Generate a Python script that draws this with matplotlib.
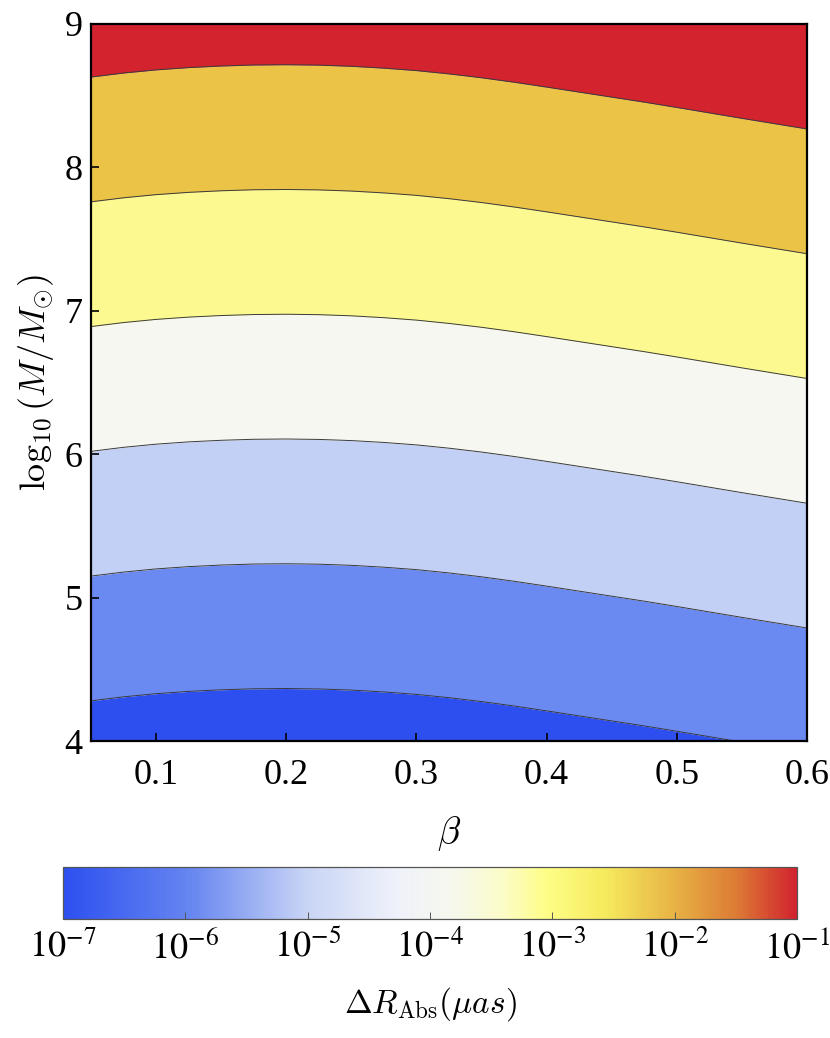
import numpy as np
import matplotlib
matplotlib.use("Agg")
import matplotlib.pyplot as plt
from matplotlib.colors import LinearSegmentedColormap, LogNorm
from matplotlib.cm import ScalarMappable

plt.rcParams['font.family'] = ['Liberation Serif', 'DejaVu Serif']
plt.rcParams['mathtext.fontset'] = 'stix'

beta = [0.05, 0.075, 0.1, 0.125, 0.15, 0.175, 0.2, 0.225, 0.25, 0.275, 0.3, 0.325,
        0.35, 0.375, 0.4, 0.425, 0.45, 0.475, 0.5, 0.525, 0.55, 0.575, 0.6]

# contour lines log10(M/Msun), bottom to top
line1 = [4.280, 4.308, 4.330, 4.346, 4.357, 4.364, 4.366, 4.363, 4.355, 4.342, 4.325, 4.302,
         4.275, 4.244, 4.210, 4.175, 4.140, 4.105, 4.068, 4.030, 3.992, 3.955, 3.918]
line2 = [5.150, 5.178, 5.200, 5.216, 5.227, 5.234, 5.236, 5.233, 5.225, 5.212, 5.195, 5.172,
         5.145, 5.114, 5.080, 5.045, 5.010, 4.975, 4.938, 4.900, 4.862, 4.825, 4.788]
line3 = [6.020, 6.048, 6.070, 6.086, 6.097, 6.104, 6.106, 6.103, 6.095, 6.082, 6.065, 6.042,
         6.015, 5.984, 5.950, 5.915, 5.880, 5.845, 5.808, 5.770, 5.732, 5.695, 5.658]
line4 = [6.890, 6.918, 6.940, 6.956, 6.967, 6.974, 6.976, 6.973, 6.965, 6.952, 6.935, 6.912,
         6.885, 6.854, 6.820, 6.785, 6.750, 6.715, 6.678, 6.640, 6.602, 6.565, 6.528]
line5 = [7.760, 7.788, 7.810, 7.826, 7.837, 7.844, 7.846, 7.843, 7.835, 7.822, 7.805, 7.782,
         7.755, 7.724, 7.690, 7.655, 7.620, 7.585, 7.548, 7.510, 7.472, 7.435, 7.398]
line6 = [8.630, 8.658, 8.680, 8.696, 8.707, 8.714, 8.716, 8.713, 8.705, 8.692, 8.675, 8.652,
         8.625, 8.594, 8.560, 8.525, 8.490, 8.455, 8.418, 8.380, 8.342, 8.305, 8.268]
lines = [line1, line2, line3, line4, line5, line6]

band_colors = ['#2D4FF0', '#6A89F1', '#C2D0F5', '#F6F7F0', '#FBF98F', '#EBC447', '#D2232E']

# colour bar gradient
cb_pos = [0.0, 0.17, 0.33, 0.45, 0.53, 0.60, 0.66, 0.74, 0.83, 0.92, 1.0]
cb_col = ['#2D50F0', '#6585F0', '#C8D4F5', '#EEF1FA', '#F6F8EE', '#FCFCC8',
          '#FDFD86', '#F6EA5E', '#E8B545', '#DC7A35', '#D2232E']
cb_exp = [-7, -6, -5, -4, -3, -2, -1]

xlim = (0.05, 0.6)
ylim = (4, 9)

fig = plt.figure(figsize=(8.3, 10.38), dpi=100)
ax = fig.add_axes([91/830, 1-741/1038, (807-91)/830, (741-24)/1038])

b = np.array(beta)
bounds = [np.full(len(b), ylim[0] - 1)] + [np.array(l) for l in lines] + [np.full(len(b), ylim[1] + 1)]
for i, c in enumerate(band_colors):
    ax.fill_between(b, bounds[i], bounds[i+1], color=c, lw=0)
for l in lines:
    ax.plot(b, l, color='#3a3a3a', lw=0.7)

ax.set_xlim(*xlim)
ax.set_ylim(*ylim)
ax.set_xticks([0.1, 0.2, 0.3, 0.4, 0.5, 0.6])
ax.set_yticks([4, 5, 6, 7, 8, 9])
ax.tick_params(direction='in', length=6, width=1.2, labelsize=26,
               top=False, right=False)
ax.tick_params(axis='x', pad=13)
ax.tick_params(axis='y', pad=6)
for s in ax.spines.values():
    s.set_linewidth(1.6)
ax.set_xlabel(r'$\beta$', fontsize=27, math_fontfamily='cm', labelpad=16)
ax.set_ylabel(r'$\log_{10}(M/M_{\odot})$', fontsize=26, math_fontfamily='cm', labelpad=6)

cmap = LinearSegmentedColormap.from_list('dr', list(zip(cb_pos, cb_col)))
cax = fig.add_axes([63/830, 1-919/1038, (797-63)/830, 52/1038])
sm = ScalarMappable(norm=LogNorm(10.0**cb_exp[0], 10.0**cb_exp[-1]), cmap=cmap)
cb = fig.colorbar(sm, cax=cax, orientation='horizontal')
cb.set_ticks([10.0**e for e in cb_exp])
cb.set_ticklabels([r'$10^{%d}$' % e for e in cb_exp])
cb.minorticks_off()
cax.tick_params(direction='in', length=5, width=0.7, labelsize=26, pad=8, color='#555555')
cb.outline.set_edgecolor('#555555')
cb.outline.set_linewidth(0.9)
cax.set_xlabel(r'$\Delta R_{\rm Abs}(\mu as)$', fontsize=24, math_fontfamily='cm', labelpad=14)

fig.savefig('out.png', dpi=100)
